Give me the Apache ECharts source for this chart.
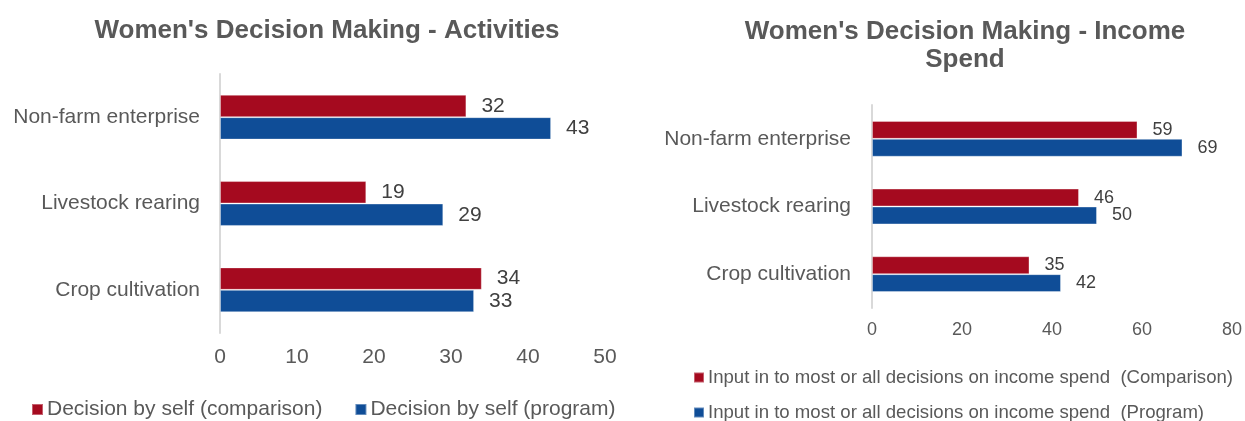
<!DOCTYPE html>
<html>
<head>
<meta charset="utf-8">
<script src="https://cdn.jsdelivr.net/npm/echarts@6/dist/echarts.min.js"></script>
<style>
html,body{margin:0;padding:0;background:#fff;}
#chart{width:1245px;height:421px;}
</style>
</head>
<body>
<div id="chart"></div>
<script>
const categories = ['Non-farm enterprise', 'Livestock rearing', 'Crop cultivation'];

const activitiesComparison = [32, 19, 34];
const activitiesProgram = [43, 29, 33];
const activitiesTicks = { min: 0, max: 50, interval: 10 };

const incomeComparison = [59, 46, 35];
const incomeProgram = [69, 50, 42];
const incomeTicks = { min: 0, max: 80, interval: 20 };

const leftTitle = "Women's Decision Making - Activities";
const rightTitle = "Women's Decision Making - Income\nSpend";
const leftNames = ['Decision by self (comparison)', 'Decision by self (program)'];
const rightNames = ['Input in to most or all decisions on income spend  (Comparison)', 'Input in to most or all decisions on income spend  (Program)'];

const RED = '#A50A1F';
const BLUE = '#0F4D97';
const FONT = '"Liberation Sans", Arial, sans-serif';
const GRAY = '#595959';

const chart = echarts.init(document.getElementById('chart'), null, { renderer: 'canvas' });

function xAx(grid, t, fs, margin) {
  return {
    type: 'value', gridIndex: grid, min: t.min, max: t.max, interval: t.interval,
    axisLine: { show: false }, axisTick: { show: false }, splitLine: { show: false },
    axisLabel: { fontSize: fs, color: GRAY, fontFamily: FONT, margin: margin }
  };
}
function yAx(grid, fs, margin) {
  return {
    type: 'category', gridIndex: grid, data: categories, inverse: true,
    axisLine: { show: true, lineStyle: { color: '#D9D9D9', width: 2 } },
    axisTick: { show: false },
    axisLabel: { fontSize: fs, color: GRAY, fontFamily: FONT, margin: margin }
  };
}
function bar(name, data, color, idx, fs, gap, dist) {
  return {
    type: 'bar', name: name, data: data, xAxisIndex: idx, yAxisIndex: idx,
    barGap: '0%', barCategoryGap: gap,
    itemStyle: { color: color, borderColor: 'rgba(255,255,255,0.35)', borderWidth: 1 },
    label: { show: true, position: 'right', distance: dist, fontSize: fs, color: '#404040', fontFamily: FONT },
    emphasis: { disabled: true }
  };
}
function legendItem(names, left, top, fs, gap, size) {
  return {
    data: names, left: left, top: top, orient: 'horizontal', icon: 'rect',
    itemWidth: size, itemHeight: size, itemGap: gap,
    textStyle: { fontSize: fs, color: GRAY, fontFamily: FONT, padding: [0, 0, 0, -1] }
  };
}

chart.setOption({
  animation: false,
  backgroundColor: '#fff',
  title: [
    { text: leftTitle, left: 322, top: 13, textAlign: 'center',
      textStyle: { fontSize: 26, fontWeight: 'bold', color: GRAY, fontFamily: FONT } },
    { text: rightTitle, left: 960, top: 13, textAlign: 'center',
      textStyle: { fontSize: 26, fontWeight: 'bold', color: GRAY, fontFamily: FONT, lineHeight: 28 } }
  ],
  legend: [
    legendItem(leftNames, 26, 394, 21, 32, 11),
    legendItem([rightNames[0]], 688, 363, 18.6, 10, 10),
    legendItem([rightNames[1]], 688, 398, 18.6, 10, 10)
  ],
  grid: [
    { left: 220, right: 640, top: 74, bottom: 88 },
    { left: 872, right: 12, top: 105, bottom: 113 }
  ],
  xAxis: [xAx(0, activitiesTicks, 21, 14), xAx(1, incomeTicks, 18, 13)],
  yAxis: [yAx(0, 21, 20), yAx(1, 21, 21)],
  series: [
    bar(leftNames[0], activitiesComparison, RED, 0, 21, '48%', 15),
    bar(leftNames[1], activitiesProgram, BLUE, 0, 21, '48%', 15),
    bar(rightNames[0], incomeComparison, RED, 1, 18, '47%', 15),
    bar(rightNames[1], incomeProgram, BLUE, 1, 18, '47%', 15)
  ]
});
</script>
</body>
</html>
